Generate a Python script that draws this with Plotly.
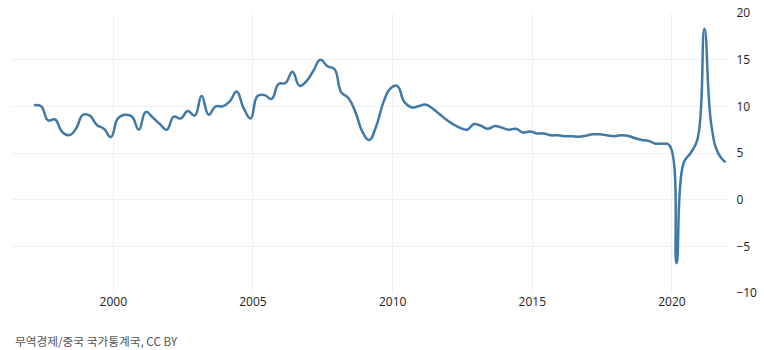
import plotly.graph_objects as go

# Quarterly data, 1997Q1 .. 2021Q4
years = list(range(1997, 2022))
growth = [
    10.1, 10.0, 8.5, 8.6,    # 1997
    7.3, 6.9, 7.6, 9.1,      # 1998
    9.0, 8.0, 7.6, 6.7,      # 1999
    8.7, 9.1, 8.9, 7.5,      # 2000
    9.4, 8.8, 8.1, 7.5,      # 2001
    8.9, 8.7, 9.5, 9.0,      # 2002
    11.1, 9.1, 10.0, 10.0,   # 2003
    10.5, 11.6, 9.8, 8.7,    # 2004
    11.1, 11.2, 10.8, 12.4,  # 2005
    12.5, 13.7, 12.2, 12.7,  # 2006
    13.8, 15.0, 14.3, 14.0,  # 2007
    11.5, 10.9, 9.4, 7.3,    # 2008
    6.4, 7.9, 10.4, 11.9,    # 2009
    12.2, 10.5, 9.9, 10.0,   # 2010
    10.2, 9.8, 9.2, 8.6,     # 2011
    8.1, 7.7, 7.5, 8.1,      # 2012
    7.9, 7.6, 7.9, 7.7,      # 2013
    7.5, 7.6, 7.2, 7.3,      # 2014
    7.1, 7.1, 6.9, 6.9,      # 2015
    6.8, 6.8, 6.75, 6.85,    # 2016
    7.0, 7.0, 6.9, 6.8,      # 2017
    6.9, 6.85, 6.6, 6.4,     # 2018
    6.3, 6.0, 6.0, 5.8,      # 2019
    -6.8, 3.9, 5.0, 6.5,     # 2020
    18.3, 7.9, 4.9, 4.0,     # 2021
]
quarter_months = [3, 6, 9, 12]
dates = [f"{y}-{m:02d}-01" for y in years for m in quarter_months]

x_ticks = ["2000-01-01", "2005-01-01", "2010-01-01", "2015-01-01", "2020-01-01"]
x_tick_labels = ["2000", "2005", "2010", "2015", "2020"]
y_ticks = [-10, -5, 0, 5, 10, 15, 20]
source_text = "무역경제/중국 국가통계국, CC BY"

fig = go.Figure()
fig.add_trace(go.Scatter(
    x=dates, y=growth, mode="lines",
    line=dict(color="#4079a8", width=2.5, shape="spline", smoothing=1.3),
    hoverinfo="skip", showlegend=False,
))

fig.update_layout(
    width=764, height=350,
    margin=dict(l=12, r=37, t=13, b=57, autoexpand=False),
    paper_bgcolor="white", plot_bgcolor="white",
    font=dict(family="Open Sans, DejaVu Sans, sans-serif", size=12, color="#222"),
    xaxis=dict(
        type="date", range=["1996-05-17", "2021-12-21"],
        tickmode="array", tickvals=x_ticks, ticktext=x_tick_labels,
        showgrid=True, gridcolor="#f0f0f0", gridwidth=1,
        zeroline=False, showline=False, ticks="", automargin=False,
        tickfont=dict(size=12, color="#222"),
    ),
    yaxis=dict(
        side="right", range=[-10, 20],
        tickmode="array", tickvals=y_ticks,
        showgrid=True, gridcolor="#f0f0f0", gridwidth=1,
        zeroline=False, showline=False, automargin=False,
        ticks="outside", ticklen=6, tickcolor="rgba(0,0,0,0)",
        tickfont=dict(size=12, color="#222"),
    ),
    annotations=[dict(
        text=source_text, xref="paper", yref="paper",
        x=0.0014, y=-0.168, xanchor="left", yanchor="middle",
        showarrow=False,
        font=dict(family="Noto Sans CJK KR, sans-serif", size=11.7, color="#555"),
    )],
)

fig.write_html("out.html")
